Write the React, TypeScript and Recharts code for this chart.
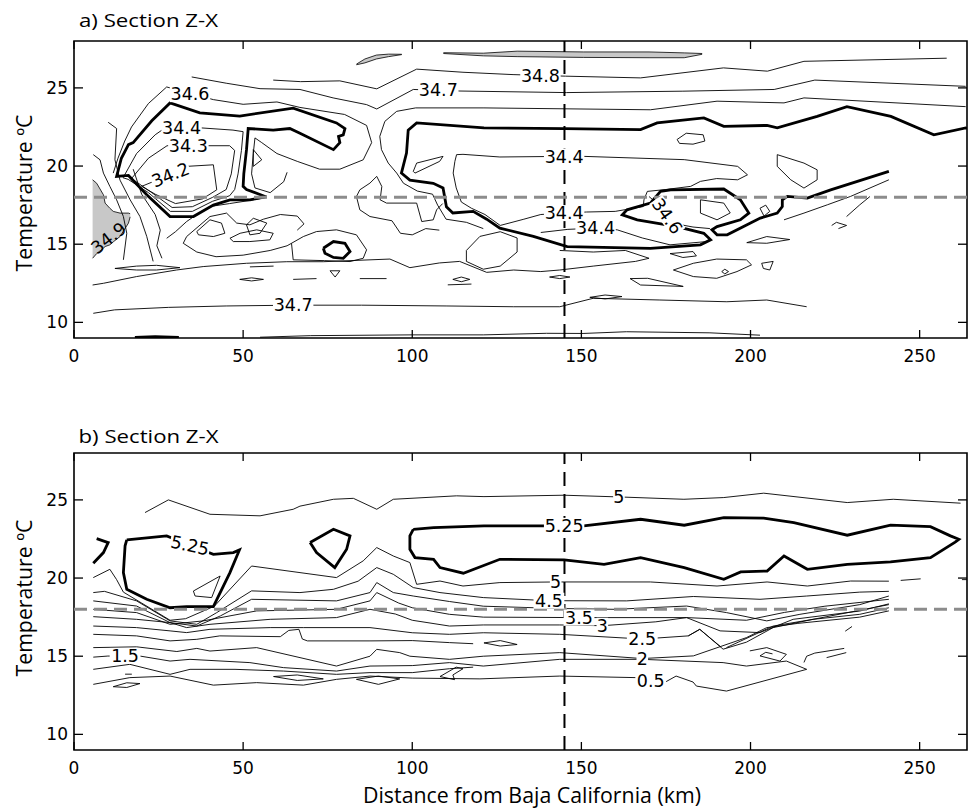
import React from 'react';
import { ComposedChart, Line, Area, XAxis, YAxis, ReferenceLine, ReferenceDot, ReferenceArea } from 'recharts';

type Pt = [number, number];
type Lbl = [number, number, string, number, boolean];
type Band = [number, number, number];

const X_TICKS = [0, 50, 100, 150, 200, 250];
const Y_TICKS = [10, 15, 20, 25];
const X_DOMAIN: [number, number] = [0, 264];
const Y_DOMAIN: [number, number] = [9, 28];
const STATION_KM = 145;
const REF_TEMP = 18;

// ---------- panel a : salinity ----------
const a_heavyLeft: Pt[] = [[57,18.05],[52,17.84],[46.1,17.84],[41.2,17.5],[35.3,16.77],[28.4,16.77],[21.5,18.16],[16.1,19.4],[12.6,19.34],[14,20.5],[16.1,21.37],[17.5,21.5],[23,22.9],[28.4,24.04],[37.2,23.4],[49,23.2],[64.8,23.7],[77.6,22.76],[80.1,22.4],[79.6,22.0],[78.2,21.9],[78.6,21.5],[76.7,21.05],[66.8,22.1],[63.8,22.4],[58.9,22.3],[51.5,22.4],[51,21.05],[50.2,19.5],[50,18.7],[51,18.5],[56.5,18.05]];
const a_heavyRight: Pt[] = [[264,22.4],[263.6,22.44],[254.2,22.0],[241.5,23.18],[228.5,23.8],[219.7,23.18],[207.9,22.44],[204.9,22.6],[192.1,22.54],[186.2,23.08],[172.4,22.76],[167.5,22.33],[145,22.4],[121.2,22.44],[101.3,22.76],[98.8,22.3],[98.3,20.83],[96.8,19.55],[99.3,19.1],[106.2,18.9],[109.1,18.6],[110.1,17.4],[112,17.0],[118,17.1],[122,16.6],[125.9,16.03],[135.8,15.5],[145.8,14.85],[170.4,14.74],[185.2,14.96],[188.2,15.28],[186.2,15.7],[178.3,16.13],[166.5,16.56],[162.1,16.88],[163.5,17.2],[170.4,17.63],[173.4,18.38],[176.4,18.48],[192.1,18.53],[197,17.84],[199.5,16.99],[197,16.56],[190.1,16.13],[188.6,15.92],[190.1,15.6],[193.1,15.6],[200,16.35],[202.9,16.67],[207.9,16.99],[209.4,17.41],[209.4,17.84],[210.9,18.06],[216.8,17.95],[223.7,18.48],[231.6,19.02],[240.9,19.66]];
const a_heavySmall: Pt[] = [[73.7,14.74],[76.7,15.17],[80.1,15.06],[81.6,14.53],[79.6,14.1],[76.7,14.15],[74.2,14.42],[73.7,14.74]];

const a_348: Pt[] = [[58.9,25.5],[67,25.4],[78.6,25.45],[89.5,24.94],[101.3,26.2],[115,26.0],[129.8,25.85],[145.3,25.75],[167.5,25.64],[192,26.28],[205,26.07],[215.8,26.7],[258,26.9]];
const a_347: Pt[] = [[34.8,25.7],[45,25.3],[55,24.95],[66.8,24.9],[76.6,24.36],[86.5,23.93],[89.5,23.65],[100.3,24.9],[114.1,24.8],[145.6,24.7],[180,24.79],[207,24.9],[219,25.5],[263.6,25.1]];
const a_346up: Pt[] = [[263.6,23.8],[215.8,24.36],[209.9,24.04],[190.1,24.15],[170.4,23.6],[121.2,23.72],[101,23.72],[95.4,23.5],[91.9,22.86],[90.4,21.9],[90.9,21.05],[92.9,20.19],[95.4,19.55],[97.4,18.9],[101.5,18.4],[106,18.2],[107.5,17.5],[110,16.6],[116,16.4],[121,16.0]];
const a_346left: Pt[] = [[11.6,19.55],[13,20.5],[15,21.6],[17,22.5],[22,24],[27.4,25.06],[34.3,24.65],[41.2,24.25],[50,23.95],[60,24.1],[66.8,23.75],[80,23.3],[86.5,22.6],[88,21.5],[85.5,20.4],[78.6,19.8],[72.6,19.8],[66,20.3],[60,20.8],[55.5,21.5],[53.5,21.8],[53,20.8],[52.5,19.5],[53.5,18.6],[58,18.3],[62,19.0],[63,19.6]];
const a_344in: Pt[] = [[14.5,19.25],[18.5,20.8],[24,22.0],[27,22.45],[37,22.45],[47,22.3],[50,22.2],[49.5,21],[48.5,19.5],[47.5,18.5],[46,18.1],[41,17.75],[35,17.1],[28.5,17.1],[22,18.3],[16,19.15],[14.5,19.25]];
const a_343in: Pt[] = [[17,19.2],[22,20.5],[27.5,21.3],[39.7,21.3],[46,21.3],[47.5,21.0],[46.5,19.5],[45,18.5],[41,18.0],[35,17.4],[29,17.35],[23,18.3],[17,19.2]];
const a_342in: Pt[] = [[20,18.7],[24.5,19.1],[27.5,19.35],[33.3,19.98],[41.2,20.08],[42.2,18.48],[38,17.9],[30,17.6],[24,18.2],[20,18.7]];
const a_tri: Pt[] = [[53,21.05],[55.5,20.4],[53,19.98],[53,21.05]];
const a_v1: Pt[] = [[5.7,20.73],[7.7,20.4],[8.7,19.55],[10.6,18.7],[12.6,17.84],[14.6,16.77],[15.6,15.7],[14.6,14.0]];
const a_v2: Pt[] = [[10.1,22.8],[12.6,22.4],[12.1,20.4],[13.6,19.1],[16.6,17.84],[19.5,16.77],[21.5,15.5],[23.4,13.9]];
const a_v3: Pt[] = [[17.5,19.8],[20,18.2],[24,16.9],[25.5,15.9],[24.5,14.9],[26,14.1]];
const a_v4: Pt[] = [[27.4,15.38],[30,15.8],[33.3,16.45],[37,17.0],[40.2,17.41],[46,17.6],[52,17.8],[57,18.0]];
const a_m1: Pt[] = [[32.3,15.06],[33.3,15.49],[40.2,16.77],[45.1,16.99],[48.1,16.35],[52,16.24],[56,16.6],[61,16.9],[66,16.8],[68,16.3],[66,15.9]];
const a_i1: Pt[] = [[36.3,15.81],[40.2,16.56],[43.6,16.35],[44.6,15.7],[41.2,15.49],[36.8,15.6],[36.3,15.81]];
const a_i2: Pt[] = [[46.1,15.38],[49.1,15.7],[54,15.92],[58.9,15.7],[57.9,15.28],[52,15.17],[47.1,15.17],[46.1,15.38]];
const a_i3: Pt[] = [[51,16.24],[53,16.66],[57,16.35],[55,15.7],[52,15.6],[51,16.24]];
const a_m2: Pt[] = [[32.3,15.06],[36.3,14.5],[42,14.2],[50,14.3],[58,14.6],[63,14.9],[64.3,15.06]];
const a_ringSmall: Pt[] = [[64.8,14.0],[64.3,15.06],[67.8,15.49],[71.7,15.81],[77.6,15.92],[83.5,15.6],[86.5,14.64],[85.5,14.1],[81.6,13.89],[74,13.95],[64.8,14.0]];
const a_mid1: Pt[] = [[84.5,18.48],[87.5,18.91],[89.5,19.34],[91,18.69],[90.5,17.84],[92.4,17.63],[101.3,17.63],[102.8,16.45],[106.2,16.56],[107.2,17.2],[109,17.6]];
const a_mid2: Pt[] = [[84.5,18.48],[83.5,18.05],[84.5,17.2],[87.5,16.77],[94,16.5],[96.5,15.7],[100,15.6],[104,16.0],[108,15.9]];
const a_wedge: Pt[] = [[100.3,19.66],[101.3,20.19],[109.1,20.62],[108.1,20.3],[100.8,19.55],[100.3,19.66]];
const a_344loop: Pt[] = [[126,16.2],[121.5,16.9],[117.5,17.3],[114.5,17.7],[113,18.6],[112.1,19.55],[112.6,20.3],[113.1,20.73],[115,20.75],[125.9,20.58],[144.9,20.62],[150.7,20.62],[180.4,20.41],[196.2,19.98],[199.1,19.44],[196.2,19.12],[190,19.2],[185.2,19.02],[182.3,18.7],[175,18.5],[169.5,18.38],[168.5,17.84],[168.3,17.41],[160,17.1],[151.5,17.06],[144.9,16.99],[138,16.9],[133,16.6],[126,16.2]];
const a_344low: Pt[] = [[138,15.75],[146,15.95],[154.2,16.03],[160.6,15.92],[168,15.4],[176.2,14.96],[187.1,15.17]];
const a_346mid: Pt[] = [[170,18.05],[173.5,17.4],[175.4,16.8],[178,16.3],[183,16.1],[188,16.0]];
const a_innerLoop: Pt[] = [[185.2,17.84],[192.1,17.63],[194,17.0],[190.1,16.56],[185.2,16.99],[185.2,17.84]];
const a_loopR: Pt[] = [[207.9,20.73],[215.8,20.19],[219.7,19.76],[219.7,19.12],[215.8,18.59],[211.9,19.12],[207.9,19.98],[207.9,20.73]];
const a_ellR: Pt[] = [[178.3,21.7],[181,22.1],[186,22.0],[186.5,21.6],[183,21.4],[179,21.45],[178.3,21.7]];
const a_r1: Pt[] = [[240.9,19.12],[229.6,18.06],[222.7,17.52],[215.8,16.99],[209.9,16.56]];
const a_r2: Pt[] = [[235.3,18.05],[232.3,17.52],[228.4,16.77]];
const a_r3: Pt[] = [[224,16.2],[225.4,16.4],[228.4,16.2],[226,16.0]];
const a_ell203: Pt[] = [[202.8,17.3],[204.5,17.5],[205.7,17.1],[204,16.8],[202.8,17.3]];
const a_346low: Pt[] = [[5.5,12.39],[8.7,12.5],[18.5,12.93],[30.3,13.35],[38.2,13.57],[51,13.78],[62.9,13.88],[73.7,13.88],[87.5,14.0],[93.4,14.05],[99.3,13.5],[108,13.8],[114,13.9],[122,13.2],[130,13.35],[138,13.25],[143.6,13.35]];
const a_ellL: Pt[] = [[12.1,13.45],[18.5,13.6],[24.4,13.65],[31.3,13.5],[24.4,13.35],[18.5,13.35],[12.1,13.45]];
const a_d1: Pt[] = [[52,13.55],[59,13.6]];
const a_d2: Pt[] = [[64.8,12.75],[71.7,12.8]];
const a_d3: Pt[] = [[84.5,12.8],[92.4,12.8]];
const a_d4: Pt[] = [[49,12.75],[52.5,12.85],[56,12.75],[52.5,12.65],[49,12.75]];
const a_d5: Pt[] = [[75.7,13.3],[78.6,13.3],[77.2,12.9],[75.7,13.3]];
const a_d6: Pt[] = [[112,12.75],[114.5,12.9],[117,12.75],[114.5,12.6],[112,12.75]];
const a_d7: Pt[] = [[110.5,12.4],[117.5,12.45]];
const a_d8: Pt[] = [[140.6,12.9],[143.6,13.0],[146.6,12.9],[143.6,12.8],[140.6,12.9]];
const a_isl5: Pt[] = [[116,14.6],[120,15.5],[126,15.8],[131,15.4],[131,14.5],[126,13.6],[121,13.4],[116,13.9],[116,14.6]];
const a_wedgeR: Pt[] = [[143.6,14.6],[153.5,14.5],[163,14.6],[170,14.1],[166,13.9],[153.5,13.6],[143.6,13.35]];
const a_isR1: Pt[] = [[176.2,14.4],[183,14.53],[184,14.25],[180,14.15],[176.2,14.4]];
const a_isR2: Pt[] = [[198.9,15.1],[204.8,15.49],[211.6,15.3],[204.8,15.06],[198.9,15.1]];
const a_isR3: Pt[] = [[177.2,13.35],[183.1,13.78],[190,14.05],[198.8,14.0],[200.3,13.68],[196,13.25],[190,12.82],[183.1,12.93],[177.2,13.35]];
const a_isR4: Pt[] = [[191.5,13.25],[192.4,13.4],[193.5,13.25],[192.4,13.1],[191.5,13.25]];
const a_isR5: Pt[] = [[203.3,13.78],[206.7,13.9],[205.7,13.35],[203.8,13.45],[203.3,13.78]];
const a_isR6: Pt[] = [[164.4,12.8],[169.6,12.82],[180.1,12.3],[167.5,12.39],[164.4,12.8]];
const a_347low: Pt[] = [[5.7,10.58],[12,10.8],[28,10.96],[45,11.05],[64.8,11.1],[85,11.1],[110,11.05],[130,11.0],[143.6,11.0],[153.5,11.54],[173.2,11.43],[193,11.32],[204.8,11.43],[216.6,11.0]];
const a_isR7: Pt[] = [[152.5,11.6],[157,11.75],[162,11.65],[157,11.5],[152.5,11.6]];
const a_348low: Pt[] = [[55,9.05],[70,9.15],[100,9.2],[121,9.2],[139.7,9.3],[150.5,9.29],[163.3,9.4],[188,9.33],[202.8,9.18]];
const a_348edge: Pt[] = [[18,9.04],[24,9.08],[31,9.04]];

// gray (>34.9) patches: [x, low, high]
const a_fillLeft: Band[] = [[5.5,14.1,19.12],[6.7,14.4,18.9],[8.7,14.75,18.16],[9.2,14.85,17.63],[10.6,14.96,17.3],[11.6,15.15,17.1],[13.6,15.49,16.99],[16.1,16.35,16.99],[16.6,16.75,16.95]];
const a_fillTop1: Band[] = [[83.5,26.48,26.52],[86,26.6,26.85],[89.4,26.85,27.1],[93,27.0,27.16],[96.9,27.13,27.15]];
const a_fillTop2: Band[] = [[109.2,27.2,27.25],[121,27.05,27.22],[131,27.0,27.35],[150.7,26.95,27.3],[170,26.93,27.3],[180.4,26.93,27.24],[185.7,27.15,27.2]];

const A_HEAVY = [a_heavyLeft, a_heavyRight, a_heavySmall, a_348edge];
const A_THIN = [a_348, a_347, a_346up, a_346left, a_344in, a_343in, a_342in, a_tri, a_v1, a_v2, a_v3, a_v4, a_m1, a_i1, a_i2, a_i3, a_m2, a_ringSmall, a_mid1, a_mid2, a_wedge, a_344loop, a_344low, a_346mid, a_innerLoop, a_loopR, a_ellR, a_r1, a_r2, a_r3, a_ell203, a_346low, a_ellL, a_d1, a_d2, a_d3, a_d4, a_d5, a_d6, a_d7, a_d8, a_isl5, a_wedgeR, a_isR1, a_isR2, a_isR3, a_isR4, a_isR5, a_isR6, a_347low, a_isR7, a_348low];
const A_FILLS = [a_fillLeft, a_fillTop1, a_fillTop2];
const A_LABELS: Lbl[] = [
  [34.3, 24.6, '34.6', 0, true],
  [31.8, 22.45, '34.4', 0, true],
  [33.8, 21.3, '34.3', 0, true],
  [28.5, 19.45, '34.2', -22, true],
  [10.2, 15.4, '34.9', -38, false],
  [107.7, 24.88, '34.7', 0, true],
  [137.9, 25.78, '34.8', 0, true],
  [144.9, 20.62, '34.4', 0, true],
  [144.9, 16.99, '34.4', 0, true],
  [154.2, 16.03, '34.4', 0, true],
  [175.4, 16.8, '34.6', 55, true],
  [64.8, 11.1, '34.7', 0, true],
];

// ---------- panel b : oxygen ----------
const b_top5: Pt[] = [[21,24.19],[27.9,25.0],[40.2,24.08],[55,23.98],[64.8,24.4],[66.8,24.6],[76.7,25.04],[82.6,25.1],[89.5,24.4],[94.4,25.04],[113.1,25.26],[121.2,25.21],[144.9,25.3],[161.1,25.19],[180.3,25.04],[192.1,25.15],[203.9,25.43],[228.6,24.83],[242.2,25.04],[262.1,24.79]];
const b_heavyRight: Pt[] = [[100.3,23.12],[106.3,23.23],[121.2,23.34],[144.9,23.34],[150.7,23.34],[167.5,23.76],[180.4,23.38],[192.1,23.87],[203.9,23.83],[212.8,23.55],[228.6,22.74],[241.4,23.38],[253.2,23.29],[259.1,22.7],[261.6,22.48],[260.5,22.3],[253.2,21.3],[241.4,21.03],[228.6,20.88],[216.8,20.56],[209.9,21.41],[204.9,20.45],[197.1,20.39],[192.1,19.92],[180.4,20.67],[167.5,21.3],[156.7,20.88],[144.9,21.16],[125.9,21.2],[115.1,20.31],[108.2,20.67],[106.3,21.2],[100.8,21.31],[99.3,21.84],[99.3,22.7],[100.3,23.12]];
const b_heavyLeft: Pt[] = [[15.6,22.44],[27.4,22.7],[34.3,22.1],[41.2,21.52],[47.1,21.63],[48.9,21.8],[46.1,20.35],[41.2,18.17],[33.3,18.17],[28.4,18.1],[21.5,18.64],[15.6,19.28],[14.6,20.35],[15.1,22.06],[15.6,22.44]];
const b_hook: Pt[] = [[5.7,20.95],[8.7,21.63],[10.1,22.27],[6.7,22.52]];
const b_loop: Pt[] = [[69.8,22.27],[76.7,23.12],[81.6,22.7],[80.6,21.84],[77.1,20.67],[71.7,21.63],[69.8,22.27]];
const b_tri: Pt[] = [[35.3,19.17],[43.2,20.13],[40.7,18.75],[35.8,18.85],[35.3,19.17]];
const b_5low: Pt[] = [[5.7,20.03],[10.6,20.56],[12.6,19.9],[14.6,19.1],[20,18.4],[28.4,17.3],[33,17.4],[41.5,18.2],[52.5,20.77],[77.6,20.03],[85.5,21.1],[89.5,21.95],[94.4,21.41],[99.3,20.99],[101.3,19.6],[108.2,19.81],[115,19.49],[125.9,19.71],[142.4,19.75],[170.4,19.75],[190.1,19.49],[204.9,19.75],[216.8,19.49],[229.6,19.81],[240.9,19.8]];
const b_dash1: Pt[] = [[244.4,19.85],[250.3,19.95]];
const b_dash2: Pt[] = [[262.5,19.9],[264,19.9]];
const b_45: Pt[] = [[5.7,19.07],[9,19.15],[18.5,18.54],[28.4,17.26],[36.3,17.04],[42.2,17.79],[52.5,19.18],[66.8,19.07],[76.7,19.28],[84,19.8],[89.5,20.67],[94.4,20.24],[100.3,19.39],[108.2,19.07],[121,18.75],[140.4,18.55],[163.4,18.54],[183.1,18.82],[202.8,18.64],[216.6,18.85],[232.3,19.1],[240.9,19.15]];
const b_4: Pt[] = [[5.7,18.54],[18.5,18.21],[28.4,17.15],[36.3,16.93],[43.3,17.58],[52.5,18.64],[77.6,18.54],[87.5,19.07],[89.5,19.71],[94.4,19.07],[100.3,18.85],[111,18.5],[121,18.2],[143.6,18.05],[160,18.0],[181.1,18.21],[192.9,17.79],[204.8,17.26],[214.6,17.68],[232.3,18.3],[240.9,18.85]];
const b_35: Pt[] = [[5.7,18.0],[18.5,17.79],[28.4,17.04],[38.2,17.26],[54,17.9],[77.6,18.0],[87.5,18.54],[89.5,19.07],[96,18.4],[100,18.1],[111,17.68],[121,17.5],[149.3,17.47],[181.1,17.47],[198.8,17.3],[210,17.8],[222,18.2],[240.9,18.64]];
const b_3: Pt[] = [[5.7,17.53],[18.5,17.36],[28.4,17.15],[33.3,16.83],[40.2,17.04],[58,17.36],[77.6,17.47],[87.5,18.0],[95,17.7],[100,17.3],[111,16.93],[121,17.0],[143.6,17.0],[156.2,16.95],[172,17.2],[181.1,17.47],[191,16.62],[202.8,16.51],[212.6,17.36],[232.3,17.89],[240.9,18.35]];
const b_25: Pt[] = [[5.7,16.93],[18.5,16.83],[28.4,16.62],[33.3,16.51],[40.2,16.72],[58,16.83],[67.8,16.83],[87.5,16.83],[100,16.5],[111,16.4],[121,16.5],[143.6,16.4],[168,16.1],[181.6,16.3],[185,16.72],[191.9,15.45],[198.8,15.9],[206.7,16.83],[218.5,17.36],[232.3,17.68],[240.9,18.1]];
const b_2b: Pt[] = [[5.7,16.4],[18.5,16.3],[28.4,15.98],[36.3,16.08],[43.1,16.3],[61,16.25],[63.5,16.65],[66.5,16.72],[67.5,16.1],[69,15.98],[87.5,15.98],[100,16.0],[111,15.87],[118,15.8]];
const b_2: Pt[] = [[5.7,15.55],[18.5,15.6],[30.4,15.3],[36.3,15.5],[40.2,15.33],[54,15.55],[77.6,14.37],[87.5,15.0],[89.5,15.44],[96.3,15.23],[99.3,15.0],[111,14.8],[121,15.0],[143.6,15.23],[168,14.85],[183.1,15.02],[198.8,16.19],[204.8,16.83],[214,17.1],[232.3,17.5],[240.9,17.9]];
const b_15: Pt[] = [[5.7,14.94],[10,15.01],[19.5,15.01],[28.4,14.69],[34.3,14.8],[52,14.59],[61.9,14.27],[77.6,14.05],[87.5,14.37],[100,14.4],[111,14.59],[121,14.37],[143.6,14.8],[168,14.8],[191.9,14.59],[198.8,14.37],[210.6,14.69],[216.6,14.16]];
const b_1: Pt[] = [[5.7,14.16],[16.5,14.48],[28.4,13.84],[34.3,14.16],[47.6,14.16],[61.9,14.05],[77.6,13.84],[87.5,13.95],[100,13.95],[111,14.2],[118,14.3]];
const b_05: Pt[] = [[5.7,13.2],[16.5,13.63],[28.4,13.73],[41.2,13.15],[54,13.31],[67.8,13.15],[77.6,13.52],[87.5,13.73],[100,13.6],[120,13.55],[143.6,13.73],[166.3,13.63],[170.5,13.45],[174.1,13.26],[178,13.73],[183,13.35],[184,13.09],[192.9,12.77],[216.6,14.16]];
const b_vA: Pt[] = [[181.6,16.3],[185,16.72],[191.2,15.6]];
const b_vB: Pt[] = [[192.9,15.55],[206.7,16.93],[218.5,17.36],[240.9,18.3]];
const b_swirl: Pt[] = [[199.8,15.34],[204.8,15.55],[210.6,15.12],[208.7,14.69],[202.8,15.02],[204.5,15.25],[206.5,15.15]];
const b_r1: Pt[] = [[215.8,14.6],[216.6,15.0],[219,15.2],[227.7,15.5]];
const b_r2: Pt[] = [[222.5,14.91],[228.3,15.23]];
const b_r3: Pt[] = [[228,16.6],[230,16.9]];
const b_isl1: Pt[] = [[11.6,13.05],[15.6,13.3],[19.5,13.25],[15.6,13.0],[11.6,13.05]];
const b_isl2: Pt[] = [[59,13.7],[66,13.8],[73.7,13.55],[66,13.45],[59,13.7]];
const b_isl3: Pt[] = [[83.5,13.52],[90,13.73],[96.3,13.55],[90,13.2],[83.5,13.52]];
const b_isl4: Pt[] = [[108.2,13.7],[113,14.3],[115,14.2],[112,13.8],[112.5,13.5],[108.2,13.7]];
const b_isl5: Pt[] = [[121.2,15.85],[126,16.0],[131,15.75],[126,15.65],[121.2,15.85]];
const b_tick: Pt[] = [[15.1,13.85],[17.1,13.85]];

const B_HEAVY = [b_heavyRight, b_heavyLeft, b_hook, b_loop];
const B_THIN = [b_top5, b_tri, b_5low, b_dash1, b_dash2, b_45, b_4, b_35, b_3, b_25, b_2b, b_2, b_15, b_1, b_05, b_vA, b_vB, b_swirl, b_r1, b_r2, b_r3, b_isl1, b_isl2, b_isl3, b_isl4, b_isl5, b_tick];
const B_LABELS: Lbl[] = [
  [34.3, 22.1, '5.25', 12, true],
  [144.9, 23.34, '5.25', 0, true],
  [161.1, 25.19, '5', 0, true],
  [142.4, 19.75, '5', 0, true],
  [140.4, 18.55, '4.5', 0, true],
  [149.3, 17.47, '3.5', 0, true],
  [156.2, 16.95, '3', 0, true],
  [168, 16.1, '2.5', 0, true],
  [168, 14.85, '2', 0, true],
  [170.5, 13.45, '0.5', 0, true],
  [15.1, 15.02, '1.5', 0, true],
];

// ---------- drawing ----------
const W = 968;
const H = 400;
const X_AXIS_H = 30;
const Y_AXIS_W = 40;
const MARGIN = { top: 41, right: 1, bottom: 32, left: 34 };
const PL = MARGIN.left + Y_AXIS_W;
const PR = W - MARGIN.right;
const PT = MARGIN.top;
const PB = H - MARGIN.bottom - X_AXIS_H;
const NUM_FONT = '"DejaVu Sans", sans-serif';
const TXT_FONT = '"Open Sans", sans-serif';

const toXY = (pts: Pt[]) => pts.map(([x, y]) => ({ x, y }));
const toBand = (b: Band[]) => b.map(([x, lo, hi]) => ({ x, y: [lo, hi] }));

const XTick = (props: any) => {
  const { x, payload } = props;
  return (
    <g>
      <line x1={x} x2={x} y1={PB} y2={PB - 8} stroke="#000" strokeWidth={1.3} />
      <line x1={x} x2={x} y1={PT} y2={PT + 8} stroke="#000" strokeWidth={1.3} />
      <text x={x} y={PB + 24} textAnchor="middle" fontSize={17} fontFamily={NUM_FONT} fill="#000">{payload.value}</text>
    </g>
  );
};

const YTick = (props: any) => {
  const { y, payload } = props;
  return (
    <g>
      <line x1={PL} x2={PL + 9} y1={y} y2={y} stroke="#000" strokeWidth={1.3} />
      <line x1={PR} x2={PR - 9} y1={y} y2={y} stroke="#000" strokeWidth={1.3} />
      <text x={PL - 6} y={y + 6} textAnchor="end" fontSize={17} fontFamily={NUM_FONT} fill="#000">{payload.value}</text>
    </g>
  );
};

const ContourLabel = ({ cx, cy, text, angle, bg }: any) => {
  const w = text.length * 9.6 + 2;
  return (
    <g transform={`translate(${cx},${cy}) rotate(${angle})`}>
      {bg && <rect x={-w / 2} y={-8} width={w} height={16} fill="#fff" />}
      <text x={0} y={6.3} textAnchor="middle" fontSize={17.5} fontFamily={NUM_FONT} fill="#000">{text}</text>
    </g>
  );
};

const Section = ({ heavy, thin, fills, labels }: { heavy: Pt[][]; thin: Pt[][]; fills: Band[][]; labels: Lbl[] }) => (
  <ComposedChart width={W} height={H} margin={MARGIN}>
    <XAxis type="number" dataKey="x" domain={X_DOMAIN} ticks={X_TICKS} interval={0} allowDataOverflow height={X_AXIS_H} axisLine={false} tickLine={false} tick={(p: any) => <XTick {...p} />} />
    <YAxis type="number" dataKey="y" domain={Y_DOMAIN} ticks={Y_TICKS} interval={0} allowDataOverflow width={Y_AXIS_W} axisLine={false} tickLine={false} tick={(p: any) => <YTick {...p} />} />
    {fills.map((f, i) => (
      <Area key={`f${i}`} data={toBand(f)} dataKey="y" type="linear" stroke="#000" strokeWidth={0.8} fill="#c8c8c8" fillOpacity={1} dot={false} activeDot={false} isAnimationActive={false} />
    ))}
    {thin.map((p, i) => (
      <Line key={`t${i}`} data={toXY(p)} dataKey="y" type="linear" stroke="#000" strokeWidth={0.9} dot={false} activeDot={false} isAnimationActive={false} />
    ))}
    {heavy.map((p, i) => (
      <Line key={`h${i}`} data={toXY(p)} dataKey="y" type="linear" stroke="#000" strokeWidth={2.8} dot={false} activeDot={false} isAnimationActive={false} />
    ))}
    {labels.map(([x, y, text, angle, bg], i) => (
      <ReferenceDot key={`l${i}`} x={x} y={y} r={0} shape={(p: any) => <ContourLabel cx={p.cx} cy={p.cy} text={text} angle={angle} bg={bg} />} />
    ))}
    <ReferenceLine x={STATION_KM} stroke="#000" strokeWidth={2} strokeDasharray="14 8" />
    <ReferenceLine y={REF_TEMP} stroke="#8c8c8c" strokeWidth={3} strokeDasharray="13 7" />
    <ReferenceArea x1={X_DOMAIN[0]} x2={X_DOMAIN[1]} y1={Y_DOMAIN[0]} y2={Y_DOMAIN[1]} fill="none" stroke="#000" strokeWidth={1.6} />
  </ComposedChart>
);

export default function App() {
  return (
    <div style={{ position: 'absolute', left: 0, top: 0, width: 968, height: 808, background: '#fff', overflow: 'hidden' }}>
      <div style={{ position: 'absolute', left: 0, top: 0 }}>
        <Section heavy={A_HEAVY} thin={A_THIN} fills={A_FILLS} labels={A_LABELS} />
      </div>
      <div style={{ position: 'absolute', left: 0, top: 412 }}>
        <Section heavy={B_HEAVY} thin={B_THIN} fills={[]} labels={B_LABELS} />
      </div>
      <svg width={968} height={808} style={{ position: 'absolute', left: 0, top: 0, pointerEvents: 'none' }}>
        <text x={79} y={27} fontSize={19} fontFamily={TXT_FONT} textLength={139} lengthAdjust="spacingAndGlyphs" fill="#000">a) Section Z-X</text>
        <text x={78.5} y={443} fontSize={19} fontFamily={TXT_FONT} textLength={140} lengthAdjust="spacingAndGlyphs" fill="#000">b) Section Z-X</text>
        <text transform="translate(32,193) rotate(-90)" textAnchor="middle" fontSize={21} fontFamily={TXT_FONT} textLength={157} lengthAdjust="spacingAndGlyphs" fill="#000">Temperature ºC</text>
        <text transform="translate(32,598) rotate(-90)" textAnchor="middle" fontSize={21} fontFamily={TXT_FONT} textLength={157} lengthAdjust="spacingAndGlyphs" fill="#000">Temperature ºC</text>
        <text x={532} y={803} textAnchor="middle" fontSize={21} fontFamily={TXT_FONT} textLength={338} lengthAdjust="spacingAndGlyphs" fill="#000">Distance from Baja California (km)</text>
      </svg>
    </div>
  );
}
